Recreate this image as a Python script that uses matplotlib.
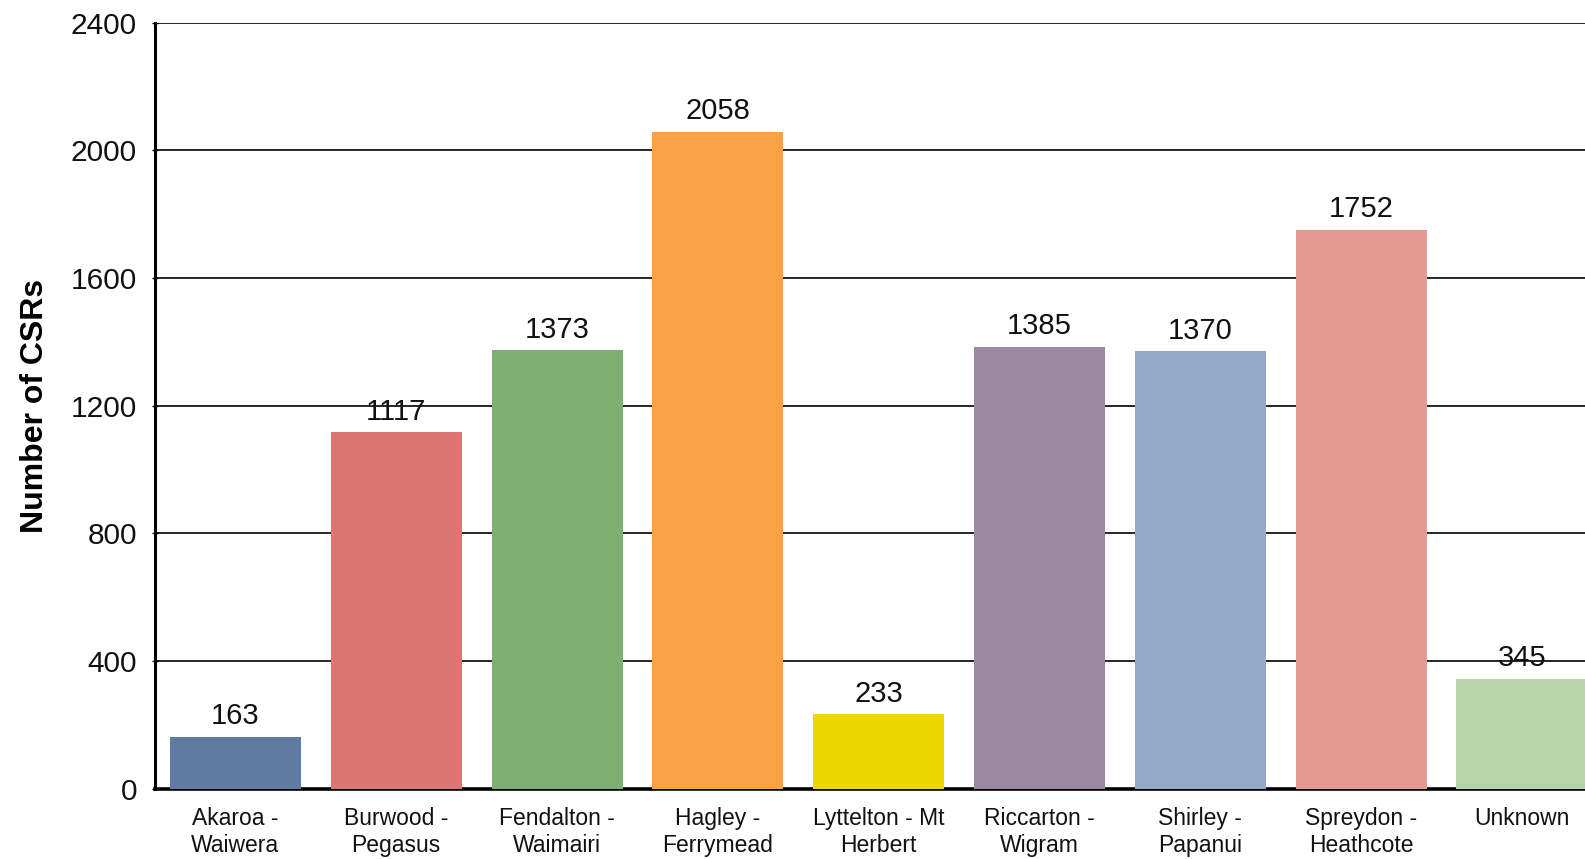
import matplotlib
matplotlib.use("Agg")
import matplotlib.pyplot as plt

categories = ["Akaroa -\nWaiwera", "Burwood -\nPegasus", "Fendalton -\nWaimairi",
              "Hagley -\nFerrymead", "Lyttelton - Mt\nHerbert", "Riccarton -\nWigram",
              "Shirley -\nPapanui", "Spreydon -\nHeathcote", "Unknown"]
values = [163, 1117, 1373, 2058, 233, 1385, 1370, 1752, 345]
colors = ["#5f7ba3", "#dc7672", "#7daf72", "#f9a146", "#ecd800",
          "#9c88a3", "#94a9c6", "#e59a92", "#b5d4aa"]
yticks = [0, 400, 800, 1200, 1600, 2000, 2400]

plt.rcParams['font.family'] = ['Liberation Sans', 'DejaVu Sans']

fig = plt.figure(figsize=(15.85, 8.59), dpi=100)
ax = fig.add_axes([0.0978, 0.0818, 0.9022, 0.8918])

x = list(range(len(categories)))
bars = ax.bar(x, values, width=0.815, color=colors, zorder=3)
for xi, v in zip(x, values):
    ax.text(xi, v + 20, str(v), ha='center', va='bottom', fontsize=21, color='#111111', zorder=4)

ax.set_xlim(-0.5, 8.392)
ax.set_ylim(0, 2400)
ax.set_yticks(yticks)
ax.set_yticklabels([str(t) for t in yticks], fontsize=21.5, color='#111111')
ax.set_xticks(x)
ax.set_xticklabels(categories, fontsize=16.5, color='#111111', linespacing=1.22)
ax.yaxis.grid(True, color='black', linewidth=1.2, zorder=0)
ax.set_axisbelow(True)
for s in ['top', 'right']:
    ax.spines[s].set_visible(False)
ax.spines['left'].set_linewidth(2.2)
ax.spines['bottom'].set_linewidth(2.6)
ax.spines['bottom'].set_zorder(2)
ax.tick_params(axis='y', length=4, width=1, direction='inout', pad=11)
ax.tick_params(axis='x', length=0, pad=13)
ax.set_ylabel("Number of CSRs", fontsize=23, fontweight='bold', labelpad=15)

fig.savefig("out.png", dpi=100)
